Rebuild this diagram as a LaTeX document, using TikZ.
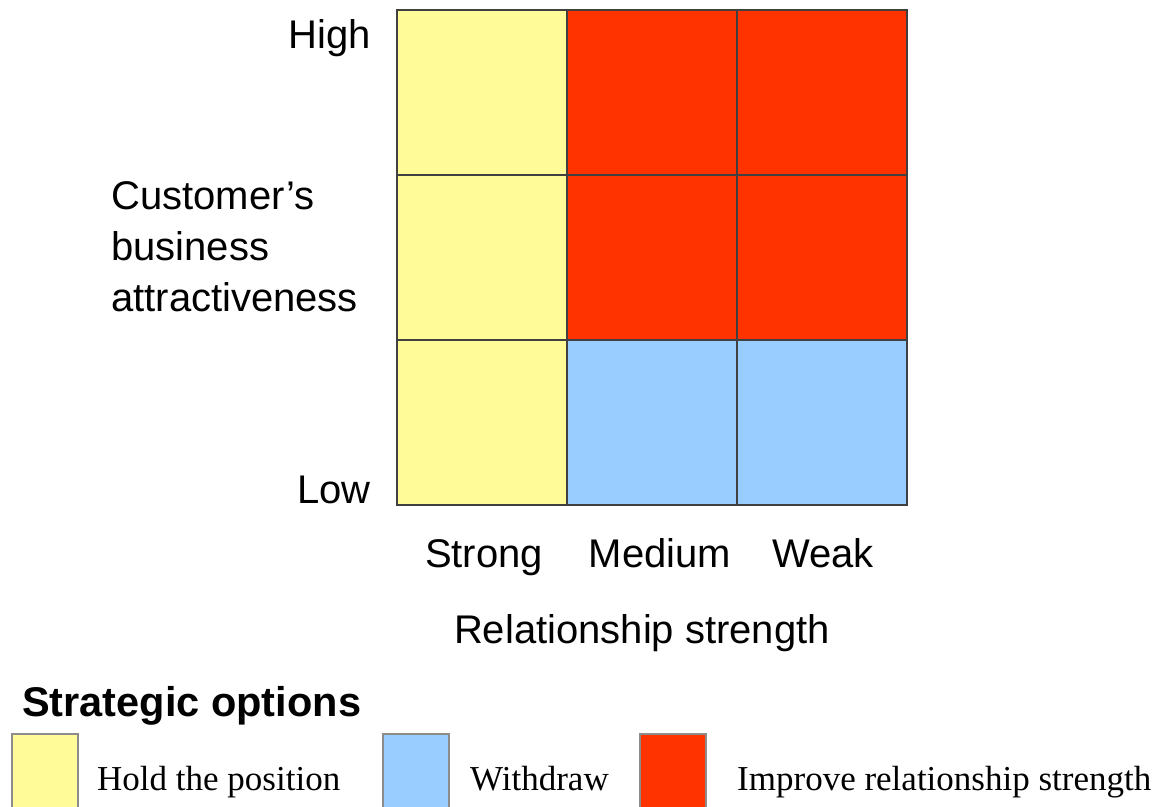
\documentclass[tikz,border=0pt]{standalone}
\usepackage{fontspec}
\setmainfont{Liberation Sans}
\newfontfamily\legendfont{Liberation Serif}
\usetikzlibrary{positioning}

\definecolor{holdyellow}{HTML}{FFFB99}
\definecolor{improvered}{HTML}{FF3300}
\definecolor{withdrawblue}{HTML}{99CCFF}

\begin{document}
\begin{tikzpicture}[x=1pt,y=-1pt,
  cell/.style = {draw=black!75, line width=1.6pt, minimum width=170pt, minimum height=165pt, outer sep=0pt, inner sep=0pt},
  key/.style = {draw=black!45, line width=1.6pt, minimum width=66pt, minimum height=76pt, outer sep=0pt, inner sep=0pt, anchor=north west},
  lbl/.style = {font=\fontsize{40}{51}\selectfont, inner sep=0pt},
  keytext/.style = {font=\legendfont\fontsize{35}{40}\selectfont, inner sep=0pt, anchor=base west}]
\useasboundingbox (0,0) rectangle (1169,806);

% the 3x3 grid
\node[cell, fill=holdyellow] (c11) at (482,92.5) {};
\node[cell, fill=improvered] (c12) [right=0pt of c11] {};
\node[cell, fill=improvered] (c13) [right=0pt of c12] {};
\node[cell, fill=holdyellow] (c21) [below=0pt of c11] {};
\node[cell, fill=improvered] (c22) [right=0pt of c21] {};
\node[cell, fill=improvered] (c23) [right=0pt of c22] {};
\node[cell, fill=holdyellow] (c31) [below=0pt of c21] {};
\node[cell, fill=withdrawblue] (c32) [right=0pt of c31] {};
\node[cell, fill=withdrawblue] (c33) [right=0pt of c32] {};

% axis labels
\node[lbl, anchor=base east] (high) at (371,48) {High};
\node[lbl, anchor=base east] (low) at (371,503) {Low};
\node[lbl, anchor=base west, align=left] (attr) at (111,311) {Customer's\\business\\attractiveness};
\node[lbl, anchor=base] (strong) at (484,567) {Strong};
\node[lbl, anchor=base] (medium) at (660,567) {Medium};
\node[lbl, anchor=base] (weak) at (823,567) {Weak};
\node[lbl, anchor=base] (rel) at (642,643) {Relationship strength};

% legend
\node[lbl, anchor=base west, font=\bfseries\fontsize{41.5}{48}\selectfont] (opts) at (22,716) {Strategic options};
\node[key, fill=holdyellow] (khold) at (12,734) {};
\node[keytext] (thold) at (97,790) {Hold the position};
\node[key, fill=withdrawblue] (kwd) at (383,734) {};
\node[keytext] (twd) at (470,790) {Withdraw};
\node[key, fill=improvered] (kimp) at (640,734) {};
\node[keytext] (timp) at (737,790) {Improve relationship strength};
\end{tikzpicture}
\end{document}
